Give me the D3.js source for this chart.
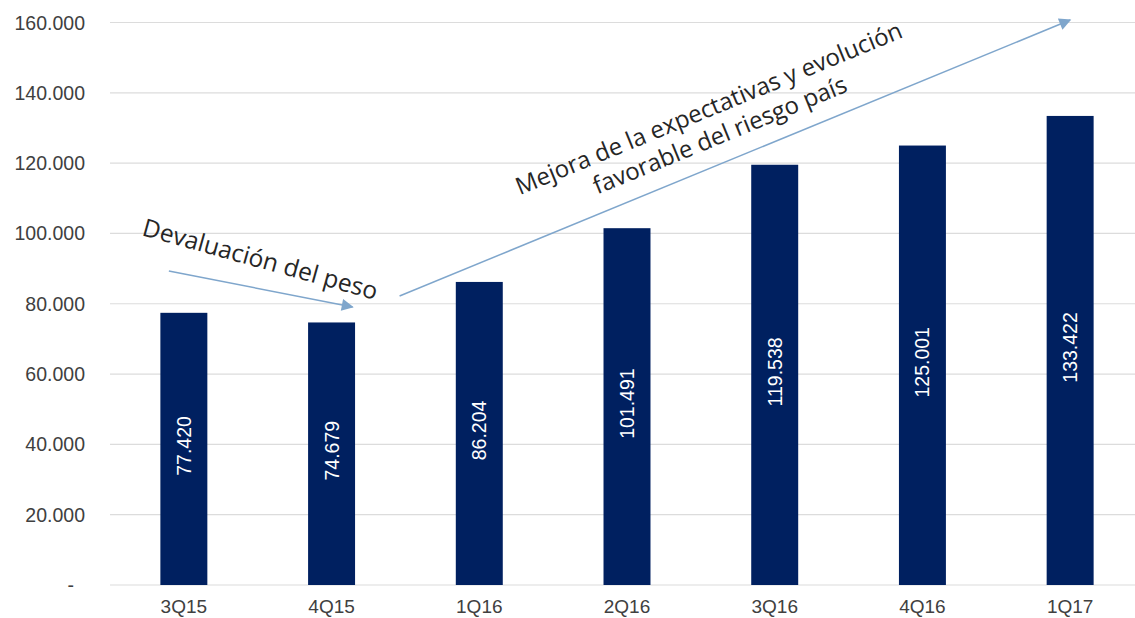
<!DOCTYPE html>
<html>
<head>
<meta charset="utf-8">
<script src="https://cdn.jsdelivr.net/npm/d3@7"></script>
<style>
  html, body { margin: 0; padding: 0; background: #fff; }
  svg { display: block; }
</style>
</head>
<body>
<svg id="chart" width="1135" height="618"></svg>
<script>
// Quarterly values
const quarters = ["3Q15", "4Q15", "1Q16", "2Q16", "3Q16", "4Q16", "1Q17"];
const values = [77420, 74679, 86204, 101491, 119538, 125001, 133422];
const yTicks = [0, 20000, 40000, 60000, 80000, 100000, 120000, 140000, 160000];

const W = 1135, H = 618;
const svg = d3.select("#chart");

const x = d3.scaleBand()
  .domain(quarters)
  .range([110, 1144])
  .paddingInner(0.682)
  .paddingOuter(0.341);

const y = d3.scaleLinear()
  .domain([0, 160000])
  .range([585, 22.5]);

const fmt = v => v === 0 ? "-" : d3.format(",")(v).replace(/,/g, ".");
const labelFont = "Liberation Sans, Arial, sans-serif";

// Horizontal gridlines
svg.append("g")
  .selectAll("line")
  .data(yTicks)
  .join("line")
  .attr("x1", 110).attr("x2", W)
  .attr("y1", d => y(d)).attr("y2", d => y(d))
  .attr("stroke", "#dcdcdc")
  .attr("stroke-width", 1.2);

// Y axis labels
svg.append("g")
  .selectAll("text")
  .data(yTicks)
  .join("text")
  .attr("x", d => d === 0 ? 74 : 85)
  .attr("y", d => y(d))
  .attr("dy", "0.36em")
  .attr("text-anchor", "end")
  .attr("font-family", labelFont)
  .attr("font-size", 19.5)
  .attr("fill", "#404040")
  .text(fmt);

// X axis labels
svg.append("g")
  .selectAll("text")
  .data(quarters)
  .join("text")
  .attr("x", d => x(d) + x.bandwidth() / 2)
  .attr("y", 613)
  .attr("text-anchor", "middle")
  .attr("font-family", labelFont)
  .attr("font-size", 19)
  .attr("fill", "#404040")
  .text(d => d);

// Bars
svg.append("g")
  .selectAll("rect")
  .data(quarters)
  .join("rect")
  .attr("x", d => x(d))
  .attr("width", x.bandwidth())
  .attr("y", (d, i) => y(values[i]))
  .attr("height", (d, i) => y(0) - y(values[i]))
  .attr("fill", "#002060");

// Value labels inside bars, rotated
svg.append("g")
  .selectAll("text")
  .data(quarters)
  .join("text")
  .attr("transform", (d, i) => {
    const cx = x(d) + x.bandwidth() / 2;
    const cy = (y(values[i]) + y(0)) / 2 - 3;
    return `translate(${cx},${cy}) rotate(-90)`;
  })
  .attr("text-anchor", "middle")
  .attr("dy", "0.36em")
  .attr("font-family", labelFont)
  .attr("font-size", 19.5)
  .attr("fill", "#ffffff")
  .text((d, i) => fmt(values[i]));

// Annotation arrows
const arrowColor = "#7fa6cc";
const defs = svg.append("defs");
defs.append("marker")
  .attr("id", "head")
  .attr("viewBox", "0 0 10 10")
  .attr("refX", 9).attr("refY", 5)
  .attr("markerWidth", 14).attr("markerHeight", 12)
  .attr("markerUnits", "userSpaceOnUse")
  .attr("orient", "auto")
  .append("path")
  .attr("d", "M0,0 L10,5 L0,10 Z")
  .attr("fill", arrowColor);

const cxOf = q => x(q) + x.bandwidth() / 2;
const arrows = [
  { x1: cxOf("3Q15") - 15, v1: 89300, x2: cxOf("4Q15") + 21, v2: 79100 },
  { x1: cxOf("4Q15") + 68, v1: 82200, x2: cxOf("1Q17"), v2: 160700 }
];
svg.append("g")
  .selectAll("line")
  .data(arrows)
  .join("line")
  .attr("x1", d => d.x1).attr("y1", d => y(d.v1))
  .attr("x2", d => d.x2).attr("y2", d => y(d.v2))
  .attr("stroke", arrowColor)
  .attr("stroke-width", 1.5)
  .attr("marker-end", "url(#head)");

// Annotation text
const noteFont = "Open Sans, Lato, sans-serif";
svg.append("text")
  .attr("transform", `translate(141,235) rotate(15.5)`)
  .attr("font-family", noteFont)
  .attr("font-size", 24.5)
  .attr("fill", "#262626")
  .text("Devaluación del peso");

const g2 = svg.append("g")
  .attr("transform", `translate(712,116) rotate(-22.4)`);
g2.append("text")
  .attr("text-anchor", "middle")
  .attr("y", 0)
  .attr("font-family", noteFont)
  .attr("font-size", 24)
  .attr("fill", "#262626")
  .text("Mejora de la expectativas y evolución");
g2.append("text")
  .attr("text-anchor", "middle")
  .attr("y", 29)
  .attr("font-family", noteFont)
  .attr("font-size", 24)
  .attr("fill", "#262626")
  .text("favorable del riesgo país");
</script>
</body>
</html>
